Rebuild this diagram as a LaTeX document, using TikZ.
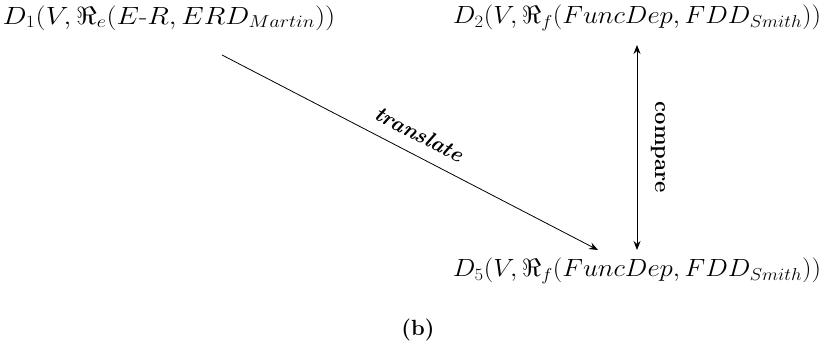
\documentclass[tikz,border=0pt]{standalone}
\usepackage{graphicx}
\usetikzlibrary{arrows.meta,calc}
\DeclareMathSizes{24}{24}{18}{14}
\newcommand{\wideform}[2][1.08]{\scalebox{#1}[1]{$#2$}}
\tikzset{
  formula/.style={inner sep=0pt, font=\fontsize{24}{29}\selectfont},
  lbl/.style={font=\fontsize{22}{26}\selectfont\bfseries},
  conn/.style={-{Stealth[length=9pt,width=7pt,inset=3pt]}, line width=0.8pt},
  conn2/.style={{Stealth[length=9pt,width=7pt,inset=3pt]}-{Stealth[length=9pt,width=7pt,inset=3pt]}, line width=0.8pt}
}
\begin{document}
\begin{tikzpicture}[x=1pt,y=1pt]
\useasboundingbox (0,0) rectangle (825,351);
\node[formula] (D1) at (169,333) {\wideform[1.15]{D_1(V,\Re_e(E\mbox{-}R,ERD_{Martin}))}};
\node[formula] (D2) at (637,333) {\wideform{D_2(V,\Re_f(FuncDep,FDD_{Smith}))}};
\node[formula] (D5) at (637,80) {\wideform{D_5(V,\Re_f(FuncDep,FDD_{Smith}))}};
\node[lbl] (cap) at (418,21) {(b)};
\coordinate (t1) at (222,296);
\coordinate (t2) at (598,101);
\coordinate (c1) at (637,306);
\coordinate (c2) at (637,101);
\draw[conn] (t1) -- node[sloped,above=9pt,lbl,font=\fontsize{22}{26}\selectfont\bfseries\itshape] {translate} (t2);
\draw[conn2] (c1) -- node[lbl,rotate=-90,above=10pt,anchor=south] {compare} (c2);
\end{tikzpicture}
\end{document}
